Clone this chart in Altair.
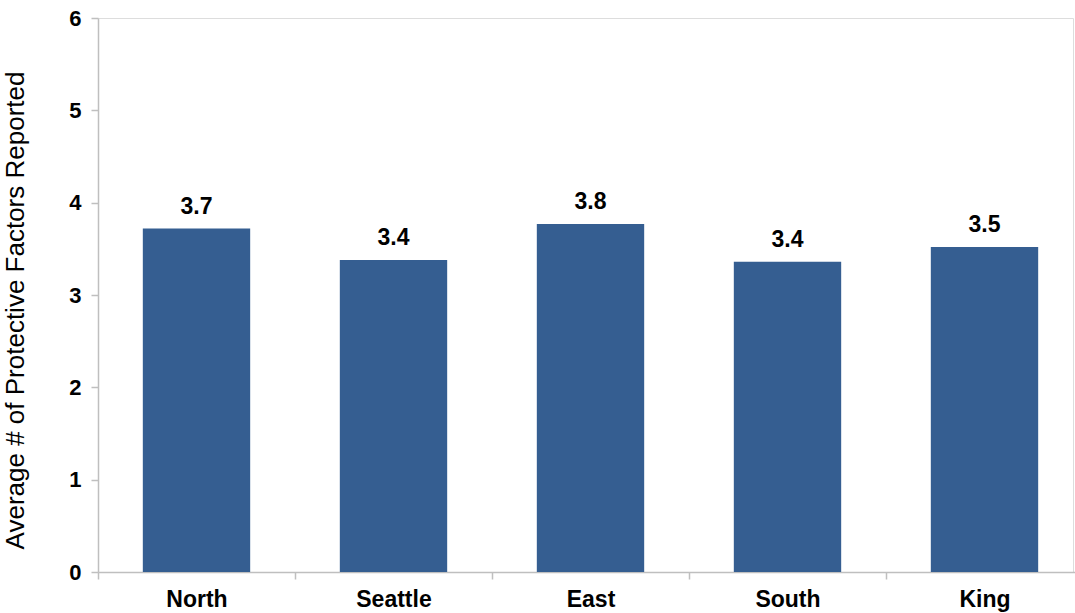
import altair as alt
import pandas as pd

regions = ["North", "Seattle", "East", "South", "King"]
values = [3.72, 3.38, 3.77, 3.36, 3.52]
labels = ["3.7", "3.4", "3.8", "3.4", "3.5"]

df = pd.DataFrame({"region": regions, "value": values, "label": labels})

FONT = "Liberation Sans"
GRAY = "#BFBFBF"

x = alt.X(
    "region:N",
    sort=regions,
    title=None,
    scale=alt.Scale(paddingInner=0, paddingOuter=0, range=[0, 985]),
    axis=alt.Axis(
        labelAngle=0,
        labelFont=FONT,
        labelFontSize=23,
        labelFontWeight="bold",
        labelColor="black",
        labelPadding=9,
        tickBand="extent",
        tickSize=7,
        tickColor=GRAY,
        domainColor=GRAY,
        domainWidth=1.5,
        tickWidth=1.5,
    ),
)

y = alt.Y(
    "value:Q",
    title="Average # of Protective Factors Reported",
    scale=alt.Scale(domain=[0, 6], nice=False),
    axis=alt.Axis(
        values=[0, 1, 2, 3, 4, 5, 6],
        format="d",
        grid=False,
        labelFont=FONT,
        labelFontSize=22,
        labelFontWeight="bold",
        labelColor="black",
        labelPadding=10,
        tickSize=7,
        tickColor=GRAY,
        tickWidth=1.5,
        domainColor=GRAY,
        domainWidth=1.5,
        titleFont=FONT,
        titleFontSize=26,
        titleFontWeight="normal",
        titleColor="black",
        titleX=-70,
        titleY=292,
    ),
)

bars = alt.Chart(df).mark_bar(color="#355E91", width=alt.RelativeBandSize(0.545)).encode(x=x, y=y)
text = alt.Chart(df).mark_text(
    font=FONT, fontSize=23, fontWeight="bold", color="black", baseline="bottom", dy=-10
).encode(x=alt.X("region:N", sort=regions), y="value:Q", text="label:N")

chart = (
    alt.layer(bars, text)
    .properties(
        width=975,
        height=554,
        autosize=alt.AutoSizeParams(type="none"),
        padding={"left": 98, "top": 18, "right": 2, "bottom": 41},
    )
    .configure_view(stroke=None)
    .configure(background="white")
)

chart.save("out.html", embed_options={"renderer": "svg", "actions": False})
